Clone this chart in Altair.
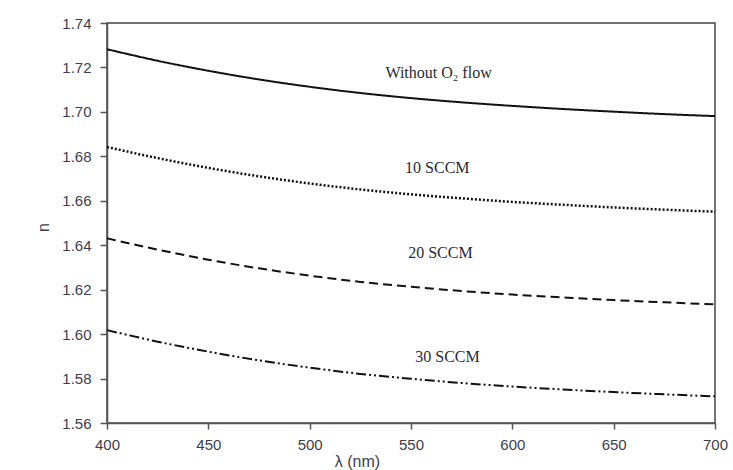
import altair as alt
import pandas as pd

wavelength = [400, 425, 450, 475, 500, 525, 550, 575, 600, 625, 650, 675, 700]
n_without = [1.7282, 1.7230, 1.7185, 1.7146, 1.7113, 1.7085, 1.7062, 1.7043, 1.7027, 1.7013, 1.7001, 1.6990, 1.6981]
n_10 = [1.6842, 1.6792, 1.6748, 1.6710, 1.6678, 1.6651, 1.6629, 1.6611, 1.6595, 1.6582, 1.6570, 1.6560, 1.6551]
n_20 = [1.6431, 1.6380, 1.6335, 1.6296, 1.6263, 1.6235, 1.6213, 1.6194, 1.6178, 1.6165, 1.6153, 1.6143, 1.6134]
n_30 = [1.6018, 1.5966, 1.5921, 1.5882, 1.5849, 1.5821, 1.5799, 1.5780, 1.5764, 1.5751, 1.5739, 1.5729, 1.5720]

series_names = ["Without", "10 SCCM", "20 SCCM", "30 SCCM"]
series_values = [n_without, n_10, n_20, n_30]
series_dash = [[1, 0], [2, 2], [9, 5], [10, 3, 2, 3, 2, 3]]
series_width = [2, 2.5, 2, 2]

label_text = ["Without O₂ flow", "10 SCCM", "20 SCCM", "30 SCCM"]
label_x = [563.6, 563.0, 564.5, 568.0]
label_y = [1.7174, 1.6746, 1.6364, 1.5897]

x_ticks = [400, 450, 500, 550, 600, 650, 700]
y_ticks = [1.56, 1.58, 1.60, 1.62, 1.64, 1.66, 1.68, 1.70, 1.72, 1.74]

rows = []
for name, vals in zip(series_names, series_values):
    for w, v in zip(wavelength, vals):
        rows.append({"series": name, "wl": w, "n": v})
df = pd.DataFrame(rows)

lab = pd.DataFrame({"text": label_text, "wl": label_x, "n": label_y})

label_color = "#3d3d50"
x_scale = alt.Scale(domain=[400, 700], nice=False, zero=False)
y_scale = alt.Scale(domain=[1.56, 1.74], nice=False, zero=False)

x_axis = alt.Axis(values=x_ticks, title="λ (nm)", grid=False, labelFont="Liberation Sans",
                  labelFontSize=15, labelColor=label_color, labelPadding=8, tickSize=6,
                  tickColor="#555555", tickWidth=1.5, domainColor="#555555", domainWidth=1.5,
                  titleFont="Liberation Sans", titleFontSize=16, titleFontWeight="normal",
                  titleColor=label_color, titleX=250, titleY=43, titleAlign="center",
                  titleBaseline="alphabetic", labelFlush=False)
y_axis = alt.Axis(values=y_ticks, format=".2f", title="n", grid=False, labelFont="Liberation Sans",
                  labelFontSize=15, labelColor=label_color, labelPadding=9, tickSize=7,
                  tickColor="#555555", tickWidth=1.5, domainColor="#555555", domainWidth=1.5,
                  titleFont="Liberation Sans", titleFontSize=16, titleFontWeight="normal",
                  titleColor=label_color, titleAngle=-90, titleX=-59, titleY=204,
                  titleAlign="center", titleBaseline="alphabetic", labelFlush=False)

X = alt.X("wl:Q", scale=x_scale, axis=x_axis)
Y = alt.Y("n:Q", scale=y_scale, axis=y_axis)

layers = []
for name, dash, sw in zip(series_names, series_dash, series_width):
    layers.append(
        alt.Chart(df[df["series"] == name])
        .mark_line(color="#111111", strokeWidth=sw, strokeDash=dash, interpolate="monotone")
        .encode(x=X, y=Y)
    )

text = alt.Chart(lab).mark_text(font="Liberation Serif", fontSize=16, color="#2a2a3a",
                                align="center", baseline="middle").encode(
    x=X, y=Y, text="text:N",
)

chart = alt.layer(*layers, text).properties(
    width=608, height=400,
    autosize=alt.AutoSizeParams(type="none"),
    padding={"left": 107, "top": 23, "right": 18, "bottom": 47},
    background="white",
).configure_view(stroke="#444444", strokeWidth=1.5)

chart.save("out.html", embed_options={"renderer": "svg", "actions": False})
